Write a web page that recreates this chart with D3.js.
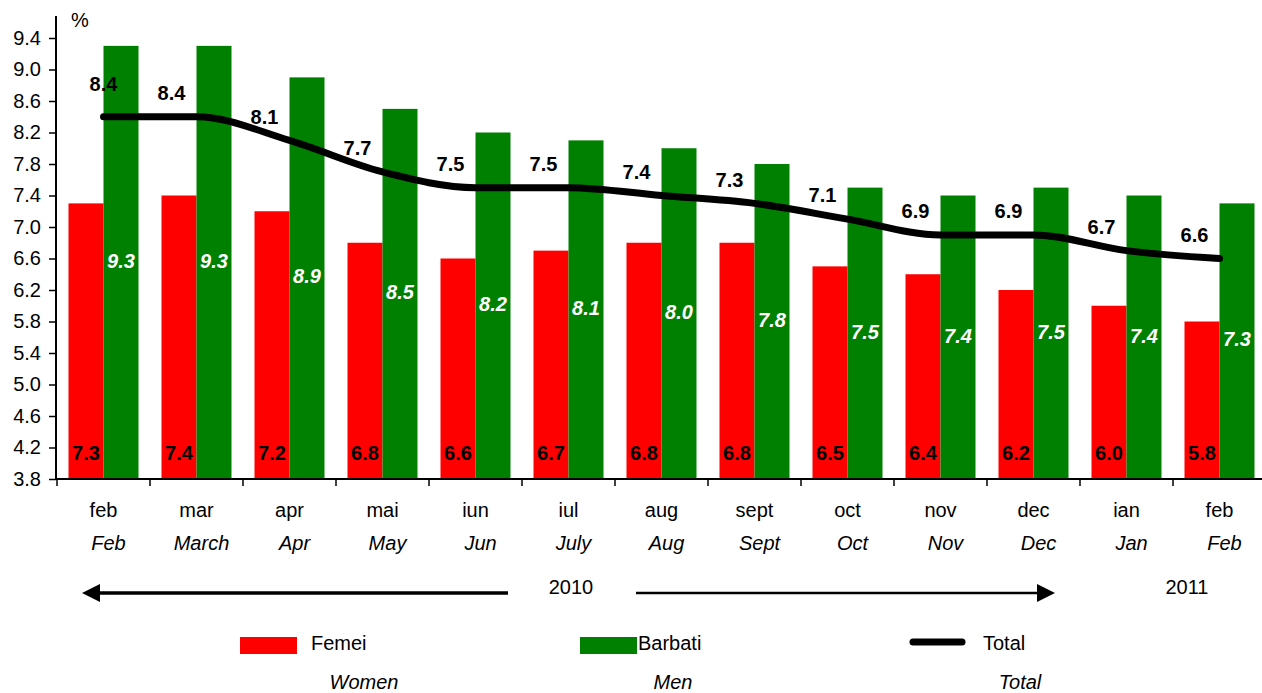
<!DOCTYPE html>
<html>
<head>
<meta charset="utf-8">
<script src="https://cdn.jsdelivr.net/npm/d3@7"></script>
<style>
  body { margin: 0; background: #fff; }
  svg { display: block; font-family: "Liberation Sans", Arial, sans-serif; }
</style>
</head>
<body>
<svg id="chart"></svg>
<script>
// DATA -------------------------------------------
const monthsRo = ['feb', 'mar', 'apr', 'mai', 'iun', 'iul', 'aug', 'sept', 'oct', 'nov', 'dec', 'ian', 'feb'];
const monthsEn = ['Feb', 'March', 'Apr', 'May', 'Jun', 'July', 'Aug', 'Sept', 'Oct', 'Nov', 'Dec', 'Jan', 'Feb'];
const women = [7.3, 7.4, 7.2, 6.8, 6.6, 6.7, 6.8, 6.8, 6.5, 6.4, 6.2, 6.0, 5.8];
const men = [9.3, 9.3, 8.9, 8.5, 8.2, 8.1, 8.0, 7.8, 7.5, 7.4, 7.5, 7.4, 7.3];
const total = [8.4, 8.4, 8.1, 7.7, 7.5, 7.5, 7.4, 7.3, 7.1, 6.9, 6.9, 6.7, 6.6];
const yTicks = [3.8, 4.2, 4.6, 5.0, 5.4, 5.8, 6.2, 6.6, 7.0, 7.4, 7.8, 8.2, 8.6, 9.0, 9.4];

const width = 1262;
const height = 693;
const margin = { left: 56, top: 38, bottom: 479 };
const red = '#ff0000';
const green = '#008000';
const fs = '20px';

const svg = d3.select('svg#chart')
    .attr('width', width)
    .attr('height', height);

const idx = d3.range(monthsRo.length);

const x = d3.scaleBand()
    .domain(idx)
    .range([57, 57 + 93 * monthsRo.length]);

const y = d3.scaleLinear()
    .domain([3.8, 9.4])
    .range([margin.bottom, margin.top]);

const barW = 35;
const offset = (x.bandwidth() - 2 * barW) / 2;

// BARS -------------------------------------------
svg.append('g').selectAll('rect')
    .data(women).enter()
    .append('rect')
    .attr('x', (d, i) => x(i) + offset)
    .attr('y', d => y(d))
    .attr('width', barW)
    .attr('height', d => y(3.8) - y(d))
    .attr('fill', red);

svg.append('g').selectAll('rect')
    .data(men).enter()
    .append('rect')
    .attr('x', (d, i) => x(i) + offset + barW)
    .attr('y', d => y(d))
    .attr('width', barW)
    .attr('height', d => y(3.8) - y(d))
    .attr('fill', green);

// bar labels
svg.append('g').selectAll('text')
    .data(women).enter()
    .append('text')
    .text(d => d.toFixed(1))
    .attr('x', (d, i) => x(i) + offset + barW / 2)
    .attr('y', 455)
    .attr('text-anchor', 'middle')
    .attr('dominant-baseline', 'middle')
    .style('font-size', fs)
    .style('font-weight', 'bold')
    .attr('fill', '#000');

svg.append('g').selectAll('text')
    .data(men).enter()
    .append('text')
    .text(d => d.toFixed(1))
    .attr('x', (d, i) => x(i) + offset + barW * 1.5)
    .attr('y', d => (y(d) + y(3.8)) / 2)
    .attr('text-anchor', 'middle')
    .attr('dominant-baseline', 'middle')
    .style('font-size', fs)
    .style('font-weight', 'bold')
    .style('font-style', 'italic')
    .attr('fill', '#fff');

// TOTAL LINE -------------------------------------------
const line = d3.line()
    .x((d, i) => x(i) + x.bandwidth() / 2)
    .y(d => y(d))
    .curve(d3.curveMonotoneX);

svg.append('path')
    .datum(total)
    .attr('d', line)
    .attr('fill', 'none')
    .attr('stroke', '#000')
    .attr('stroke-width', 7)
    .attr('stroke-linecap', 'round')
    .attr('stroke-linejoin', 'round');

svg.append('g').selectAll('text')
    .data(total).enter()
    .append('text')
    .text(d => d.toFixed(1))
    .attr('x', (d, i) => x(i) + x.bandwidth() / 2 + (i === 0 ? 0 : -25))
    .attr('y', (d, i) => y(d) + (i === 0 ? -31 : -22))
    .attr('text-anchor', 'middle')
    .attr('dominant-baseline', 'middle')
    .style('font-size', fs)
    .style('font-weight', 'bold')
    .attr('fill', '#000');

// AXES -------------------------------------------
const yAxis = svg.append('g')
    .attr('transform', `translate(${margin.left},0)`)
    .call(d3.axisLeft(y).tickValues(yTicks).tickFormat(d3.format('.1f')).tickSize(7).tickSizeOuter(0));
yAxis.select('.domain').attr('stroke', '#000').attr('stroke-width', 2)
    .attr('d', `M0,${margin.bottom}V${margin.top - 22}`);
yAxis.selectAll('.tick line').attr('stroke-width', 1.5);
yAxis.selectAll('.tick text')
    .attr('x', -15)
    .style('font-size', fs)
    .style('font-family', '"Liberation Sans", Arial, sans-serif')
    .attr('fill', '#000');

svg.append('line')
    .attr('x1', margin.left).attr('x2', width)
    .attr('y1', margin.bottom).attr('y2', margin.bottom)
    .attr('stroke', '#000').attr('stroke-width', 2);

svg.append('g').selectAll('line')
    .data(idx).enter()
    .append('line')
    .attr('x1', i => x(i)).attr('x2', i => x(i))
    .attr('y1', margin.bottom).attr('y2', margin.bottom + 7)
    .attr('stroke', '#000').attr('stroke-width', 1.5);

svg.append('g').selectAll('text')
    .data(monthsRo).enter()
    .append('text')
    .text(d => d)
    .attr('x', (d, i) => x(i) + x.bandwidth() / 2)
    .attr('y', 512)
    .attr('text-anchor', 'middle')
    .attr('dominant-baseline', 'middle')
    .style('font-size', fs);

svg.append('g').selectAll('text')
    .data(monthsEn).enter()
    .append('text')
    .text(d => d)
    .attr('x', (d, i) => x(i) + x.bandwidth() / 2 + 5)
    .attr('y', 545)
    .attr('text-anchor', 'middle')
    .attr('dominant-baseline', 'middle')
    .style('font-size', fs)
    .style('font-style', 'italic');

svg.append('text')
    .text('%')
    .attr('x', 80).attr('y', 22)
    .attr('text-anchor', 'middle')
    .attr('dominant-baseline', 'middle')
    .style('font-size', fs);

// YEAR ARROWS -------------------------------------------
svg.append('line')
    .attr('x1', 508).attr('y1', 593).attr('x2', 96).attr('y2', 593)
    .attr('stroke', '#000').attr('stroke-width', 3.5);
svg.append('path')
    .attr('d', 'M82,593L100,584L100,602Z')
    .attr('fill', '#000');
svg.append('line')
    .attr('x1', 636).attr('y1', 593).attr('x2', 1040).attr('y2', 593)
    .attr('stroke', '#000').attr('stroke-width', 2.5);
svg.append('path')
    .attr('d', 'M1055,593L1037,584L1037,602Z')
    .attr('fill', '#000');

svg.append('text').text('2010')
    .attr('x', 571).attr('y', 589)
    .attr('text-anchor', 'middle').attr('dominant-baseline', 'middle')
    .style('font-size', fs);
svg.append('text').text('2011')
    .attr('x', 1187).attr('y', 589)
    .attr('text-anchor', 'middle').attr('dominant-baseline', 'middle')
    .style('font-size', fs);

// LEGEND -------------------------------------------
const legend = svg.append('g');
legend.append('rect').attr('x', 240).attr('y', 637).attr('width', 57).attr('height', 17).attr('fill', red);
legend.append('text').text('Femei').attr('x', 311).attr('y', 645)
    .attr('dominant-baseline', 'middle').style('font-size', fs);
legend.append('text').text('Women').attr('x', 364).attr('y', 684)
    .attr('text-anchor', 'middle').attr('dominant-baseline', 'middle')
    .style('font-size', fs).style('font-style', 'italic');

legend.append('rect').attr('x', 580).attr('y', 637).attr('width', 57).attr('height', 17).attr('fill', green);
legend.append('text').text('Barbati').attr('x', 638).attr('y', 645)
    .attr('dominant-baseline', 'middle').style('font-size', fs);
legend.append('text').text('Men').attr('x', 673).attr('y', 684)
    .attr('text-anchor', 'middle').attr('dominant-baseline', 'middle')
    .style('font-size', fs).style('font-style', 'italic');

legend.append('line').attr('x1', 913).attr('x2', 962).attr('y1', 642).attr('y2', 642)
    .attr('stroke', '#000').attr('stroke-width', 7).attr('stroke-linecap', 'round');
legend.append('text').text('Total').attr('x', 983).attr('y', 645)
    .attr('dominant-baseline', 'middle').style('font-size', fs);
legend.append('text').text('Total').attr('x', 1020).attr('y', 684)
    .attr('text-anchor', 'middle').attr('dominant-baseline', 'middle')
    .style('font-size', fs).style('font-style', 'italic');
</script>
</body>
</html>
